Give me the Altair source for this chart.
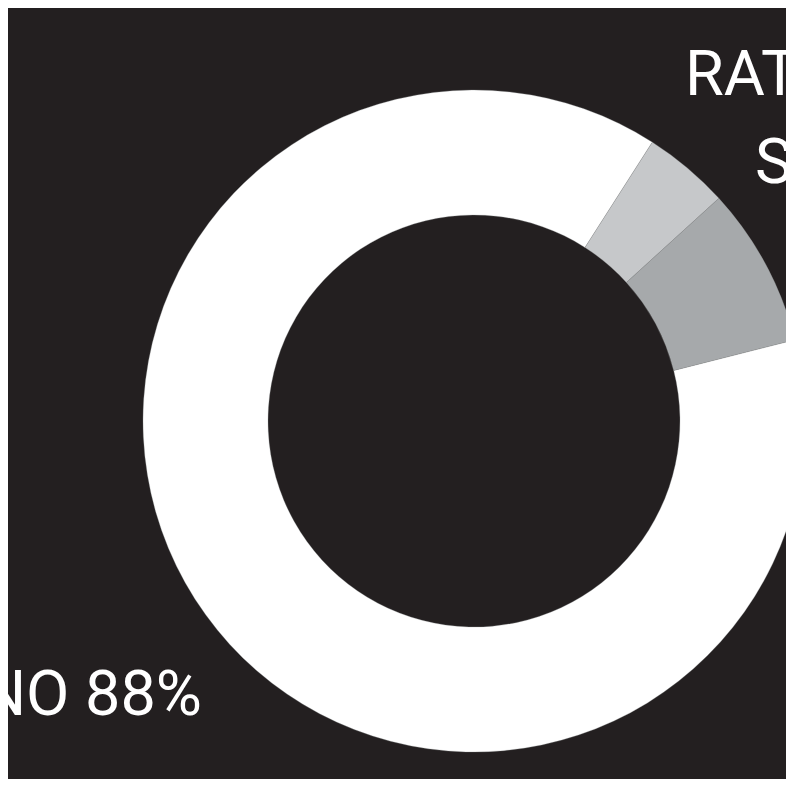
import altair as alt
import pandas as pd

# Data
categories = ["NO", "RATHER NOT SAY", "YES"]
values = [88.0, 4.2, 7.8]
colors = ["#ffffff", "#c6c8ca", "#a6a9ab"]
order_idx = [0, 1, 2]

label_no = "NO 88%"
label_rns_1 = "RATHER NOT"
label_rns_2 = "SAY 4%"

df = pd.DataFrame({"category": categories, "value": values, "order": order_idx})

W, H = 778, 771
cx, cy = 466, 413
start = 75.8 * 3.141592653589793 / 180.0
two_pi = 2 * 3.141592653589793

FONT = "Roboto, Liberation Sans Narrow, sans-serif"
FS = 63

arcs = alt.Chart(df).mark_arc(radius=331, innerRadius=206, stroke="#9a9c9e", strokeWidth=0.3).encode(
    theta=alt.Theta("value:Q", stack=True, scale=alt.Scale(range=[start, start + two_pi])),
    color=alt.Color("category:N", scale=alt.Scale(domain=categories, range=colors), legend=None),
    order=alt.Order("order:Q"),
    x=alt.value(cx),
    y=alt.value(cy),
)

t_no = alt.Chart(pd.DataFrame({"t": [label_no]})).mark_text(
    align="right", baseline="alphabetic", fontSize=FS, font=FONT, color="#ffffff"
).encode(text="t:N", x=alt.value(194), y=alt.value(707))

t1 = alt.Chart(pd.DataFrame({"t": [label_rns_1]})).mark_text(
    align="left", baseline="alphabetic", fontSize=FS, font=FONT, color="#ffffff"
).encode(text="t:N", x=alt.value(677), y=alt.value(87))

t2 = alt.Chart(pd.DataFrame({"t": [label_rns_2]})).mark_text(
    align="left", baseline="alphabetic", fontSize=FS, font=FONT, color="#ffffff"
).encode(text="t:N", x=alt.value(747), y=alt.value(175))

chart = alt.layer(arcs, t_no, t1, t2).properties(
    width=W, height=H, padding=0, autosize=alt.AutoSizeParams(type="none"),
    background="#231f20",
).configure_view(stroke=None)

chart.save("out.html", embed_options={"renderer": "svg", "actions": False})
